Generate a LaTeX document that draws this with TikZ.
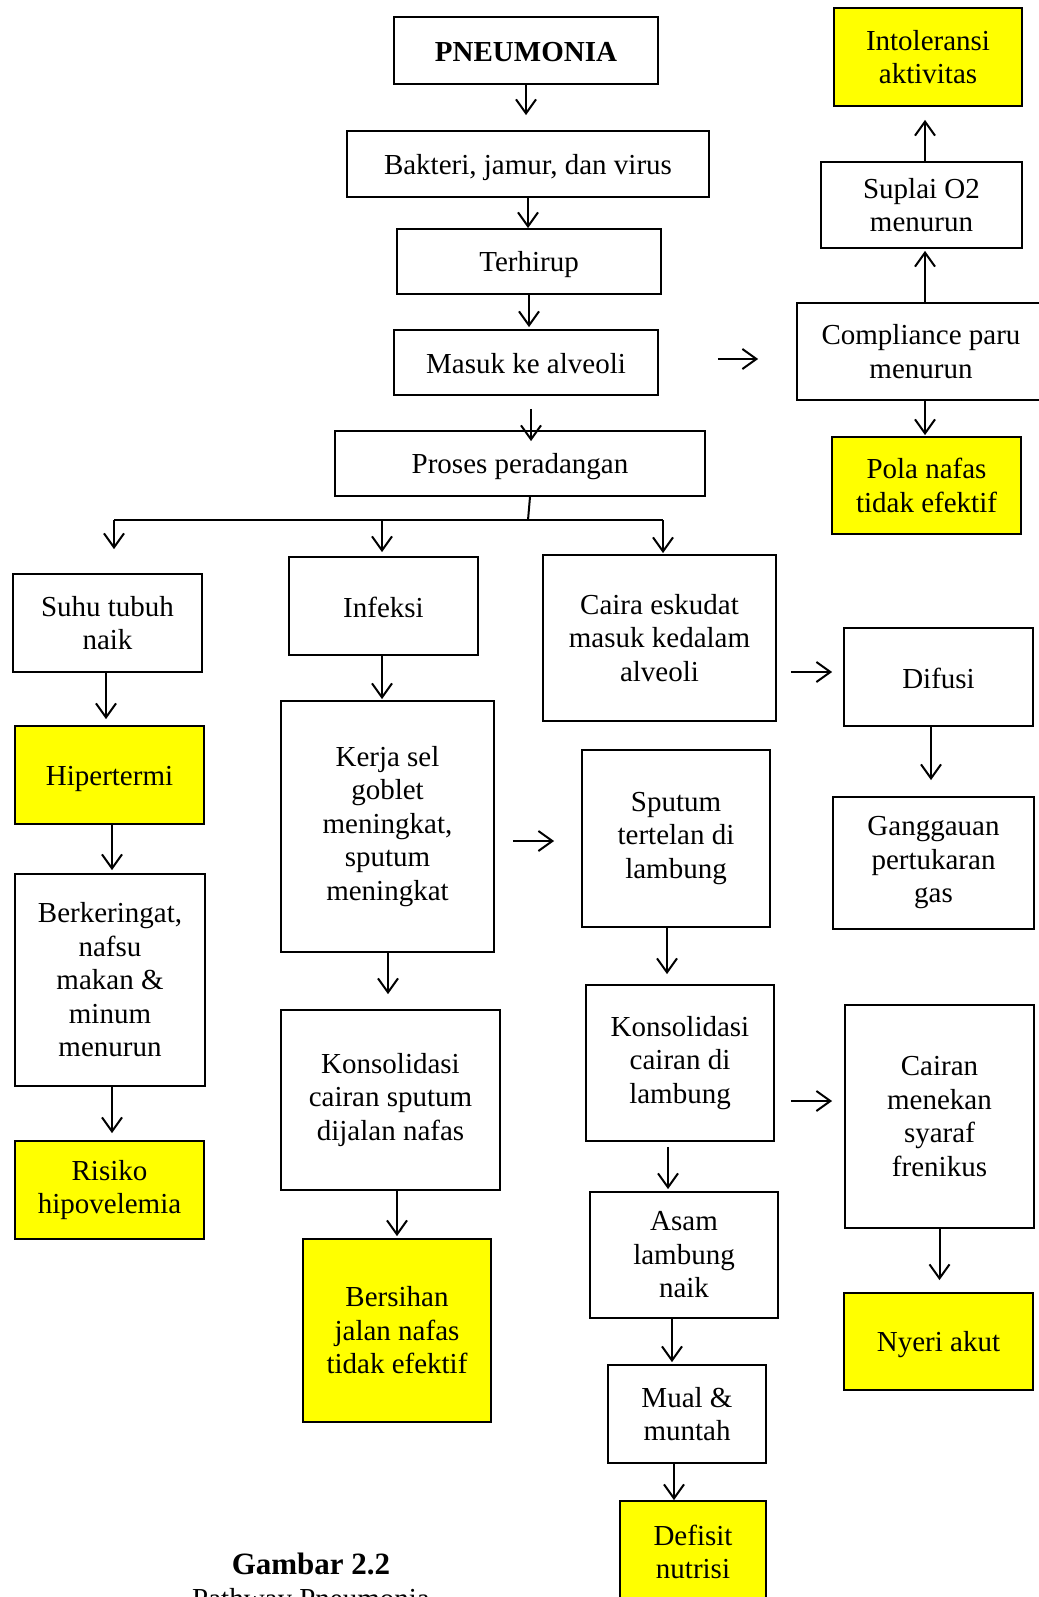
\documentclass[tikz,border=0pt]{standalone}
\usepackage{fontspec}
\setmainfont{Liberation Serif}
\usepackage{xcolor}
\usetikzlibrary{arrows.meta, calc}
\definecolor{myyellow}{RGB}{255, 255, 0}

\tikzset{
  box/.style={draw, line width=1.8pt, inner sep=0pt, align=center, fill=white},
  hasil/.style={box, fill=myyellow},
  tunggal/.style={execute at begin node={\rule{0pt}{27pt}}, execute at end node={\rule[-5pt]{0pt}{0pt}}},
  arr/.style={-{Straight Barb[length=14pt,width=20pt,line width=2pt]}, line width=2pt},
}

\begin{document}
\begin{tikzpicture}[x=1pt, y=-1pt, font=\fontsize{29}{33.5}\selectfont]
\useasboundingbox (0,0) rectangle (1038,1597);

% kolom tengah atas
\node[box, tunggal, minimum width=264pt, minimum height=67pt] (pneu) at (526,50.5) {\textbf{PNEUMONIA}};
\node[box, tunggal, minimum width=362pt, minimum height=66pt] (bakteri) at (528,164) {Bakteri, jamur, dan virus};
\node[box, tunggal, minimum width=264pt, minimum height=65pt] (terhirup) at (529,261.5) {Terhirup};
\node[box, tunggal, minimum width=264pt, minimum height=65pt] (masuk) at (526,362.5) {Masuk ke alveoli};
\node[box, tunggal, minimum width=370pt, minimum height=65pt] (proses) at (520,463.5) {Proses peradangan};

% kolom kanan atas
\node[hasil, minimum width=188pt, minimum height=98pt] (intol) at (928,57) {Intoleransi\\aktivitas};
\node[box, minimum width=201pt, minimum height=86pt] (suplai) at (921.5,205) {Suplai O2\\menurun};
\node[box, minimum width=248pt, minimum height=97pt] (compl) at (921,351.5) {Compliance paru\\menurun};
\node[hasil, minimum width=189pt, minimum height=97pt] (pola) at (926.5,485.5) {Pola nafas\\tidak efektif};

% cabang
\node[box, minimum width=189pt, minimum height=98pt] (suhu) at (107.5,623) {Suhu tubuh\\naik};
\node[box, tunggal, minimum width=189pt, minimum height=98pt] (infeksi) at (383.5,606) {Infeksi};
\node[box, minimum width=233pt, minimum height=166pt] (caira) at (659.5,638) {Caira eskudat\\masuk kedalam\\alveoli};
\node[box, tunggal, minimum width=189pt, minimum height=98pt] (difusi) at (938.5,677) {Difusi};

\node[hasil, tunggal, minimum width=189pt, minimum height=98pt] (hiper) at (109.5,775) {Hipertermi};
\node[box, minimum width=213pt, minimum height=251pt] (kerja) at (387.5,826.5) {Kerja sel\\goblet\\meningkat,\\sputum\\meningkat};
\node[box, minimum width=188pt, minimum height=177pt] (sputum) at (676,838.5) {Sputum\\tertelan di\\lambung};
\node[box, minimum width=201pt, minimum height=132pt] (gangg) at (933.5,863) {Ganggauan\\pertukaran\\gas};

\node[box, minimum width=190pt, minimum height=212pt] (berker) at (110,980) {Berkeringat,\\nafsu\\makan \&\\minum\\menurun};
\node[box, minimum width=219pt, minimum height=180pt] (konsolA) at (390.5,1100) {Konsolidasi\\cairan sputum\\dijalan nafas};
\node[box, minimum width=188pt, minimum height=156pt] (konsolB) at (680,1063) {Konsolidasi\\cairan di\\lambung};
\node[box, minimum width=189pt, minimum height=223pt] (cairan) at (939.5,1116.5) {Cairan\\menekan\\syaraf\\frenikus};

\node[hasil, minimum width=189pt, minimum height=98pt] (risiko) at (109.5,1190) {Risiko\\hipovelemia};
\node[hasil, minimum width=188pt, minimum height=183pt] (bersihan) at (397,1330.5) {Bersihan\\jalan nafas\\tidak efektif};
\node[box, minimum width=188pt, minimum height=126pt] (asam) at (684,1255) {Asam\\lambung\\naik};
\node[hasil, tunggal, minimum width=189pt, minimum height=97pt] (nyeri) at (938.5,1341.5) {Nyeri akut};
\node[box, minimum width=158pt, minimum height=98pt] (mual) at (687,1414) {Mual \&\\muntah};
\node[hasil, minimum width=146pt, minimum height=102pt] (defisit) at (693,1552) {Defisit\\nutrisi};

\node[font=\fontsize{31}{34}\selectfont\bfseries, anchor=base] (gambar) at (311,1574) {Gambar 2.2};
\node[anchor=base] (judul) at (311,1608) {Pathway Pneumonia};

% panah kolom tengah
\draw[arr, shorten >=15pt] (pneu.south) -- (pneu.south |- bakteri.north);
\draw[arr] (bakteri.south) -- (bakteri.south |- terhirup.north);
\draw[arr, shorten >=2pt] (terhirup.south) -- (terhirup.south |- masuk.north);
\draw[arr, shorten <=13pt, shorten >=-11pt] ([xshift=5pt]masuk.south) -- ([xshift=5pt]masuk.south |- proses.north);
\draw[arr, shorten <=59pt, shorten >=38pt] ([yshift=3.5pt]masuk.east) -- ([yshift=3.5pt]masuk.east -| compl.west);

% panah kanan atas
\draw[arr, shorten >=2pt] ([xshift=4pt]compl.north) -- ([xshift=4pt]compl.north |- suplai.south);
\draw[arr, shorten >=13pt] ([xshift=3.5pt]suplai.north) -- ([xshift=3.5pt]suplai.north |- intol.south);
\draw[arr, shorten >=1pt] ([xshift=4pt]compl.south) -- ([xshift=4pt]compl.south |- pola.north);

% percabangan dari proses
\coordinate (split) at (528,520);
\coordinate (bl) at (114,520);
\coordinate (br) at (663,520);
\draw[line width=2pt] ([xshift=10pt]proses.south) -- (split);
\draw[line width=2pt] (bl) -- (br);
\draw[arr, shorten >=24pt] (bl) -- (bl |- suhu.north);
\draw[arr, shorten >=4pt] ([xshift=-1.5pt]infeksi.north |- bl) -- ([xshift=-1.5pt]infeksi.north);
\draw[arr, shorten >=1pt] (br) -- (br |- caira.north);

% kolom kiri
\draw[arr, shorten >=6pt] ([xshift=-1.5pt]suhu.south) -- ([xshift=-1.5pt]suhu.south |- hiper.north);
\draw[arr, shorten >=3pt] ([xshift=2.5pt]hiper.south) -- ([xshift=2.5pt]hiper.south |- berker.north);
\draw[arr, shorten >=7pt] ([xshift=2pt]berker.south) -- ([xshift=2pt]berker.south |- risiko.north);

% kolom infeksi
\draw[arr, shorten >=1pt] ([xshift=-1.5pt]infeksi.south) -- ([xshift=-1.5pt]infeksi.south |- kerja.north);
\draw[arr, shorten >=15pt] ([xshift=0.5pt]kerja.south) -- ([xshift=0.5pt]kerja.south |- konsolA.north);
\draw[arr, shorten <=18pt, shorten >=27pt] ([yshift=-14.5pt]kerja.east) -- ([yshift=-14.5pt]kerja.east -| sputum.west);
\draw[arr, shorten >=2pt] ([xshift=6.5pt]konsolA.south) -- ([xshift=6.5pt]konsolA.south |- bersihan.north);

% kolom caira dan sputum
\draw[arr, shorten <=14pt, shorten >=11pt] ([yshift=-34pt]caira.east) -- ([yshift=-34pt]caira.east -| difusi.west);
\draw[arr, shorten >=16pt] ([xshift=-7.5pt]difusi.south) -- ([xshift=-7.5pt]difusi.south |- gangg.north);
\draw[arr, shorten >=10pt] ([xshift=-9pt]sputum.south) -- ([xshift=-9pt]sputum.south |- konsolB.north);
\draw[arr, shorten <=16pt, shorten >=12pt] ([yshift=-38pt]konsolB.east) -- ([yshift=-38pt]konsolB.east -| cairan.west);
\draw[arr, shorten <=5pt, shorten >=2pt] ([xshift=-12pt]konsolB.south) -- ([xshift=-12pt]konsolB.south |- asam.north);
\draw[arr, shorten >=2pt] ([xshift=-12pt]asam.south) -- ([xshift=-12pt]asam.south |- mual.north);
\draw[arr, shorten >=12pt] (cairan.south) -- (cairan.south |- nyeri.north);
\draw[arr] ([xshift=-13pt]mual.south) -- ([xshift=-13pt]mual.south |- defisit.north);
\end{tikzpicture}
\end{document}
